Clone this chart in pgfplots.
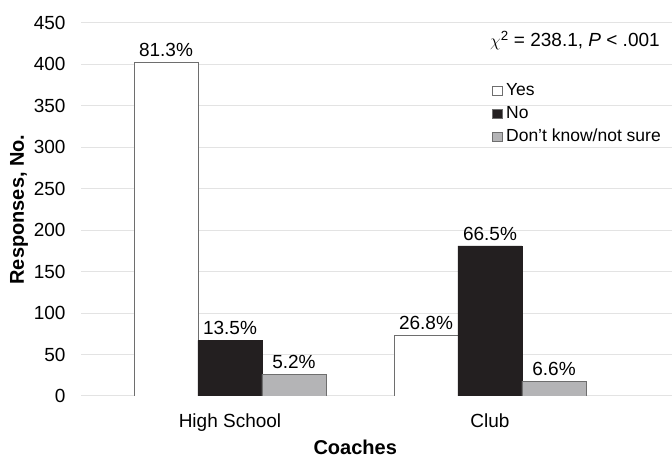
\documentclass[border=0pt]{standalone}
\usepackage{pgfplots}
\pgfplotsset{compat=1.18}
\usepackage{fontspec}
\setmainfont{Liberation Sans}
\definecolor{nobar}{HTML}{231F20}
\definecolor{dkbar}{HTML}{B4B4B6}
\definecolor{gridc}{HTML}{E3E3E3}
\definecolor{edgec}{HTML}{6E6E6E}
\pgfplotsset{
  mylegend/.style={legend image code/.code={\draw[##1, draw=edgec, line width=0.7pt] (0pt,-4.5pt) rectangle (10pt,4.5pt);}}
}
\begin{document}
\begin{tikzpicture}
\begin{axis}[
  scale only axis, width=591pt, height=373pt,
  xmin=-0.573, xmax=1.7, ymin=0, ymax=450,
  ytick={0,50,...,450},
  xtick={0,1}, xticklabels={High School, Club},
  major tick length=0pt,
  axis line style={draw=none},
  ymajorgrids, grid style={gridc, line width=1pt},
  ybar=0pt, bar width=64pt,
  font=\fontsize{19}{22}\selectfont,
  tick label style={font=\fontsize{19}{22}\selectfont},
  /pgf/number format/assume math mode=true,
  yticklabel style={xshift=-12pt},
  xticklabel style={anchor=base, yshift=-32pt},
  ylabel={Responses, No.},
  ylabel style={font=\fontsize{20}{22}\selectfont\bfseries, at={(axis description cs:-0.1049,0.5)}, anchor=center},
  xlabel={Coaches},
  xlabel style={font=\fontsize{20}{22}\selectfont\bfseries, at={(axis description cs:0.464,-0.137)}, anchor=center},
  nodes near coords, point meta=explicit symbolic,
  every node near coord/.append style={font=\fontsize{19}{22}\selectfont, yshift=2pt, black},
  legend style={at={(0.695,0.845)}, anchor=north west, draw=none, fill=none,
    font=\fontsize{17.5}{19}\selectfont, inner sep=0pt, row sep=4pt,
    nodes={inner sep=1pt, text height=13pt, text depth=4pt},
    /tikz/every odd column/.style={column sep=2.5pt}},
  legend cell align=left,
]
\addplot[mylegend, fill=white, draw=edgec, line width=0.7pt] coordinates {(0,403) [81.3\%] (1,73) [26.8\%]};
\addplot[mylegend, fill=nobar, draw=nobar, line width=0.7pt] coordinates {(0,67) [13.5\%] (1,181) [66.5\%]};
\addplot[mylegend, fill=dkbar, draw=edgec, line width=0.7pt] coordinates {(0,26) [5.2\%] (1,18) [6.6\%]};
\legend{Yes, No, Don't know/not sure}
\node[anchor=west, font=\fontsize{19}{21}\selectfont, inner sep=0pt] at (rel axis cs:0.692,0.952) {$\chi$\textsuperscript{2} = 238.1, \textit{P} < .001};
\end{axis}
\pgfresetboundingbox
\path[use as bounding box] ([xshift=-81pt,yshift=-61pt]current axis.south west) rectangle ([yshift=23pt]current axis.north east);
\end{tikzpicture}
\end{document}
